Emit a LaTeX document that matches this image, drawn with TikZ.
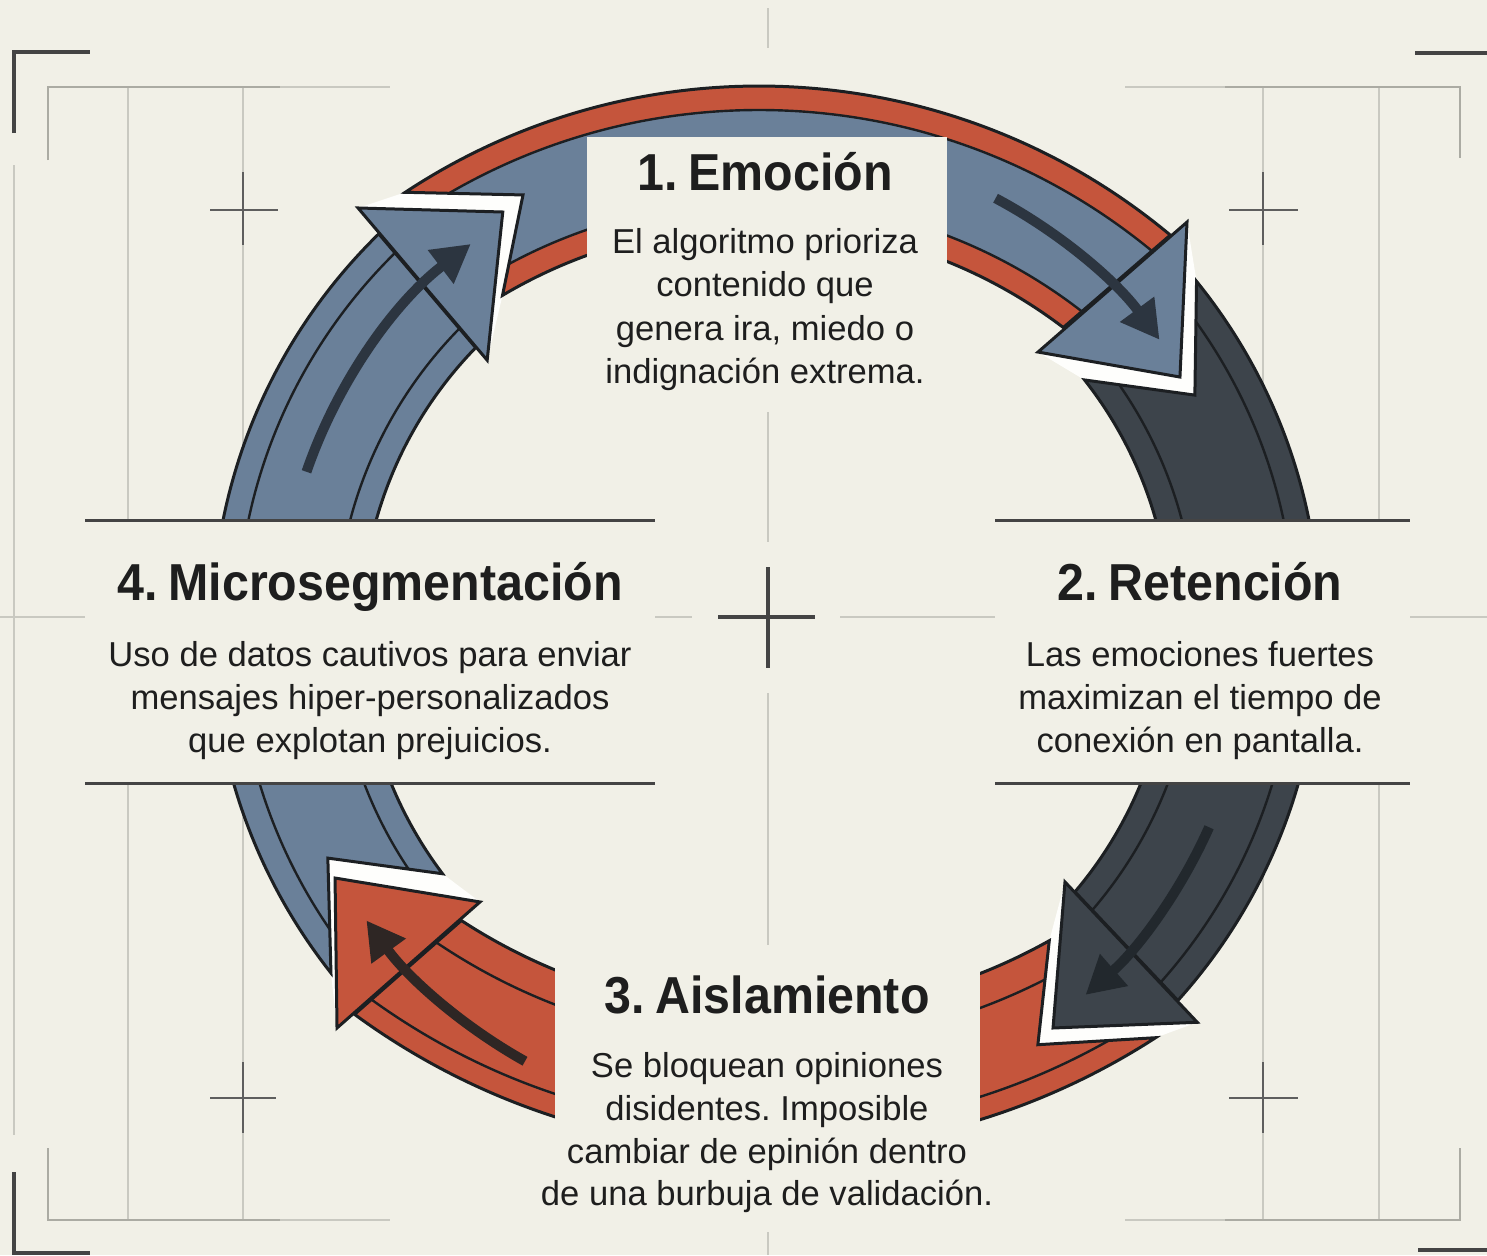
\documentclass[tikz,border=0pt]{standalone}
\usepackage{fontspec}
\setmainfont{Liberation Sans}
\newfontfamily\bodyfont{Liberation Sans}
\newfontfamily\headfont[FakeStretch=0.93,WordSpace=0.8]{Liberation Sans}
\usetikzlibrary{arrows.meta}
\frenchspacing
\definecolor{bgc}{HTML}{F1F0E7}
\definecolor{bluec}{HTML}{6A8099}
\definecolor{redc}{HTML}{C5553C}
\definecolor{darkc}{HTML}{3D444B}
\definecolor{linec}{HTML}{1C1F22}
\definecolor{indblue}{HTML}{2C3540}
\definecolor{indred}{HTML}{2E2624}
\definecolor{inddark}{HTML}{22282D}
\definecolor{gridc}{HTML}{C9C9C1}
\definecolor{brackl}{HTML}{ABABA3}
\definecolor{brackd}{HTML}{444444}
\definecolor{crossc}{HTML}{5E5E5E}
\definecolor{txtc}{HTML}{1E1E1E}
\definecolor{gapc}{HTML}{FEFEFC}
\begin{document}
\frenchspacing
\begin{tikzpicture}[x=0.5pt,y=-0.5pt,
  outl/.style={draw=linec, line width=1.5pt, line join=miter},
  stripe/.style={draw=linec, line width=1.2pt},
  ind/.style={line width=5pt, -{Triangle[length=19pt,width=20pt]}},
  gline/.style={draw=gridc, line width=0.7pt},
  brl/.style={draw=brackl, line width=1.4pt},
  brd/.style={draw=brackd, line width=1.6pt},
  crs/.style={draw=crossc, line width=1pt},
  hrule/.style={draw=brackd, line width=1.5pt},
  hd/.style={anchor=base, inner sep=0pt, text=txtc, font=\headfont\bfseries\fontsize{26pt}{30pt}\selectfont\frenchspacing},
  bd/.style={anchor=base, inner sep=0pt, text=txtc, font=\bodyfont\fontsize{17.3pt}{20pt}\selectfont\frenchspacing}
]
\useasboundingbox (0,0) rectangle (1487,1255);
\fill[bgc] (0,0) rectangle (1487,1255);

% ---------- background grid ----------
\draw[gline] (128,87) -- (128,1220);
\draw[gline] (243,87) -- (243,1220);
\draw[gline] (1263,87) -- (1263,1220);
\draw[gline] (1379,87) -- (1379,1220);
\draw[gline] (14,165) -- (14,1135);
\draw[gline] (768,8) -- (768,48);
\draw[gline] (768,412) -- (768,542);
\draw[gline] (768,693) -- (768,960);
\draw[gline] (768,1232) -- (768,1255);
\draw[gline] (0,617) -- (85,617);
\draw[gline] (655,617) -- (692,617);
\draw[gline] (840,617) -- (995,617);
\draw[gline] (1410,617) -- (1487,617);
\draw[brl] (48,160) -- (48,87) -- (280,87);
\draw[gline] (280,87) -- (390,87);
\draw[gline] (1125,87) -- (1225,87);
\draw[brl] (1225,87) -- (1460,87) -- (1460,158);
\draw[brl] (48,1148) -- (48,1220) -- (280,1220);
\draw[gline] (280,1220) -- (390,1220);
\draw[gline] (1125,1220) -- (1225,1220);
\draw[brl] (1225,1220) -- (1460,1220) -- (1460,1148);
\draw[brd] (14,133) -- (14,52) -- (90,52);
\draw[brd] (1415,53) -- (1487,53);
\draw[brd] (14,1172) -- (14,1253) -- (90,1253);
\draw[brd] (1418,1250) -- (1487,1250);
\draw[crs] (210,210) -- (278,210) (243,172) -- (243,245);
\draw[crs] (1229,210) -- (1298,210) (1263,172) -- (1263,245);
\draw[crs] (210,1098) -- (276,1098) (243,1062) -- (243,1133);
\draw[crs] (1229,1098) -- (1298,1098) (1263,1062) -- (1263,1133);
\draw[brd] (718,617) -- (815,617) (768,567) -- (768,668);

% ---------- key points of the four arrows ----------
\begin{scope}[shift={(766,630)}]
  \coordinate (Lto) at (141.75:554);
  \coordinate (Ltn) at (152.5:494);
  \coordinate (Lti) at (143:405);
  \coordinate (Lho) at (225.97:587);
  \coordinate (Lhp) at (237.8:494);
  \coordinate (Lhi) at (224.06:388);
  \coordinate (Rto) at (-39:554);
  \coordinate (Rtn) at (-28.71:489);
  \coordinate (Rti) at (-38.13:405);
  \coordinate (Rho) at (42.29:583);
  \coordinate (Rhp) at (54.2:490.7);
  \coordinate (Rhi) at (40.12:391);
\end{scope}
\begin{scope}[shift={(759,728)}]
  \coordinate (Tto) at (236.56:642);
  \coordinate (Ttn) at (246.12:583);
  \coordinate (Tti) at (239.34:503);
  \coordinate (Tho) at (310.23:662.7);
  \coordinate (Thp) at (320.18:548.1);
  \coordinate (Thi) at (306.58:468.2);
\end{scope}
\begin{scope}[shift={(772,445)}]
  \coordinate (Bto) at (57.09:706);
  \coordinate (Btn) at (66.09:656);
  \coordinate (Bti) at (60.78:568);
  \coordinate (Bho) at (126.73:727.4);
  \coordinate (Bhp) at (135.26:615.2);
  \coordinate (Bhi) at (122.58:542.3);
\end{scope}

% ---------- white gaps between head and next tail ----------
\fill[gapc] (Lho) -- (Lhp) -- (Lhi) -- (Tti) -- (Ttn) -- (Tto) -- cycle;
\fill[gapc] (Tho) -- (Thp) -- (Thi) -- (Rti) -- (Rtn) -- (Rto) -- cycle;
\fill[gapc] (Rho) -- (Rhp) -- (Rhi) -- (Bti) -- (Btn) -- (Bto) -- cycle;
\fill[gapc] (Bho) -- (Bhp) -- (Bhi) -- (Lti) -- (Ltn) -- (Lto) -- cycle;

% ---------- left arrow (4 -> 1) and right arrow (2 -> 3) ----------
\begin{scope}[shift={(766,630)}]
  \def\bodyL{(Lto) arc[start angle=141.75,end angle=225.65,radius=554] -- (224.2:405) arc[start angle=224.2,end angle=143,radius=405] -- (Ltn) -- cycle}
  \fill[bluec] \bodyL;
  \begin{scope}
    \clip \bodyL;
    \draw[stripe] (0,0) circle[radius=529] (0,0) circle[radius=430];
  \end{scope}
  \draw[outl] \bodyL;
  \def\bodyR{(Rto) arc[start angle=-39,end angle=41.97,radius=554] -- (40.28:405) arc[start angle=40.28,end angle=-38.13,radius=405] -- (Rtn) -- cycle}
  \fill[darkc] \bodyR;
  \begin{scope}
    \clip \bodyR;
    \draw[stripe] (0,0) circle[radius=529] (0,0) circle[radius=430];
  \end{scope}
  \draw[outl] \bodyR;
\end{scope}

% ---------- top arrow (1 -> 2) ----------
\begin{scope}[shift={(759,728)}]
  \def\bodyT{(Tto) arc[start angle=236.56,end angle=309.84,radius=642] -- (307.23:503) arc[start angle=307.23,end angle=239.34,radius=503] -- (Ttn) -- cycle}
  \fill[redc] \bodyT;
  \begin{scope}
    \clip \bodyT;
    \fill[bluec, even odd rule] (0,0) circle[radius=618] (0,0) circle[radius=527];
    \draw[stripe] (0,0) circle[radius=618] (0,0) circle[radius=527];
  \end{scope}
  \draw[outl] \bodyT;
\end{scope}

% ---------- bottom arrow (3 -> 4) ----------
\begin{scope}[shift={(772,445)}]
  \def\bodyB{(Bto) arc[start angle=57.09,end angle=126.25,radius=706] -- (123.16:568) arc[start angle=123.16,end angle=60.78,radius=568] -- (Btn) -- cycle}
  \fill[redc] \bodyB;
  \begin{scope}
    \clip \bodyB;
    \draw[stripe] (0,0) circle[radius=684] (0,0) circle[radius=600];
  \end{scope}
  \draw[outl] \bodyB;
\end{scope}

% ---------- arrow heads ----------
\filldraw[outl, fill=bluec] (Lho) -- (Lhp) -- (Lhi) -- cycle;
\filldraw[outl, fill=bluec] (Tho) -- (Thp) -- (Thi) -- cycle;
\filldraw[outl, fill=darkc] (Rho) -- (Rhp) -- (Rhi) -- cycle;
\filldraw[outl, fill=redc] (Bho) -- (Bhp) -- (Bhi) -- cycle;

% ---------- direction indicators ----------
\begin{scope}[shift={(766,630)}]
  \draw[ind, indblue] (199:486) arc[start angle=199,end angle=232.6,radius=486];
  \draw[ind, indblue] (-62:489) arc[start angle=-62,end angle=-36.4,radius=489];
  \draw[ind, inddark] (24:485) arc[start angle=24,end angle=48.8,radius=485];
  \draw[ind, indred] (119.2:494) arc[start angle=119.2,end angle=144,radius=494];
\end{scope}

% ---------- text panels ----------
\fill[bgc] (587,137) rectangle (947,412);
\fill[bgc] (85,520) rectangle (655,783);
\fill[bgc] (995,520) rectangle (1410,783);
\fill[bgc] (555,945) rectangle (980,1226);
\draw[hrule] (85,520) -- (655,520) (85,783) -- (655,783);
\draw[hrule] (995,520) -- (1410,520) (995,783) -- (1410,783);

\node[hd] (h1) at (765,190) {1. Emoción};
\node[bd] (t1a) at (765,253) {El algoritmo prioriza};
\node[bd] (t1b) at (765,296) {contenido que};
\node[bd] (t1c) at (765,340) {genera ira, miedo o};
\node[bd] (t1d) at (765,383) {indignación extrema.};

\node[hd] (h2) at (1200,600) {2. Retención};
\node[bd] (t2a) at (1200,666) {Las emociones fuertes};
\node[bd] (t2b) at (1200,709) {maximizan el tiempo de};
\node[bd] (t2c) at (1200,752) {conexión en pantalla.};

\node[hd] (h4) at (370,600) {4. Microsegmentación};
\node[bd] (t4a) at (370,666) {Uso de datos cautivos para enviar};
\node[bd] (t4b) at (370,709) {mensajes hiper-personalizados};
\node[bd] (t4c) at (370,752) {que explotan prejuicios.};

\node[hd] (h3) at (767,1013) {3. Aislamiento};
\node[bd] (t3a) at (767,1077) {Se bloquean opiniones};
\node[bd] (t3b) at (767,1120) {disidentes. Imposible};
\node[bd] (t3c) at (767,1163) {cambiar de epinión dentro};
\node[bd] (t3d) at (767,1205) {de una burbuja de validación.};
\end{tikzpicture}
\end{document}
